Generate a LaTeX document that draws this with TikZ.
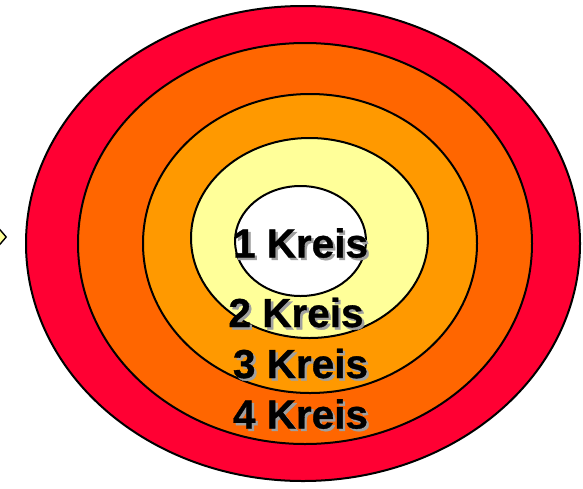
\documentclass[tikz,border=0pt]{standalone}
\usepackage{fontspec}
\setmainfont{Liberation Sans}
\newfontfamily\heavyfont{Liberation Sans Bold}[FakeBold=0.8]
\usetikzlibrary{shapes.geometric}
\definecolor{ringA}{HTML}{FF0033}
\definecolor{ringB}{HTML}{FF6600}
\definecolor{ringC}{HTML}{FF9900}
\definecolor{ringD}{HTML}{FFFF99}
\definecolor{shade}{HTML}{A0A0A0}
\newcommand\shtext[1]{\makebox[0pt][l]{\hspace{2.4pt}\raisebox{-2.4pt}{\color{shade}#1}}#1}
\tikzset{
  ring/.style={ellipse, draw=black, line width=2pt, inner sep=0pt, outer sep=0pt},
  lbl/.style={anchor=base, inner sep=0pt, font=\heavyfont\fontsize{40.5}{40}\selectfont},
  diamark/.style={diamond, draw=black, fill=ringD, line width=1.4pt, minimum width=13pt, minimum height=15pt, inner sep=0pt}
}
\begin{document}
\begin{tikzpicture}[x=1pt,y=-1pt]
\useasboundingbox (0,0) rectangle (583,488);
\begin{scope}
\clip (0,0) rectangle (583,488);
\node[diamark] (dm) at (0,237) {};
\node[ring, fill=ringA, minimum width=554pt, minimum height=475pt] (r4) at (303,243.5) {};
\node[ring, fill=ringB, minimum width=454pt, minimum height=401pt] (r3) at (305,243.5) {};
\node[ring, fill=ringC, minimum width=334pt, minimum height=299pt] (r2) at (310,243.5) {};
\node[ring, fill=ringD, minimum width=237pt, minimum height=200pt] (r1) at (309.5,238) {};
\node[ring, fill=white, minimum width=131pt, minimum height=110pt] (r0) at (300.5,241) {};
\end{scope}
\node[lbl] (t1) at (300.5,257.5) {\shtext{1 Kreis}};
\node[lbl] (t2) at (296,327) {\shtext{2 Kreis}};
\node[lbl] (t3) at (300.5,378) {\shtext{3 Kreis}};
\node[lbl] (t4) at (300.5,428.5) {\shtext{4 Kreis}};
\end{tikzpicture}
\end{document}
